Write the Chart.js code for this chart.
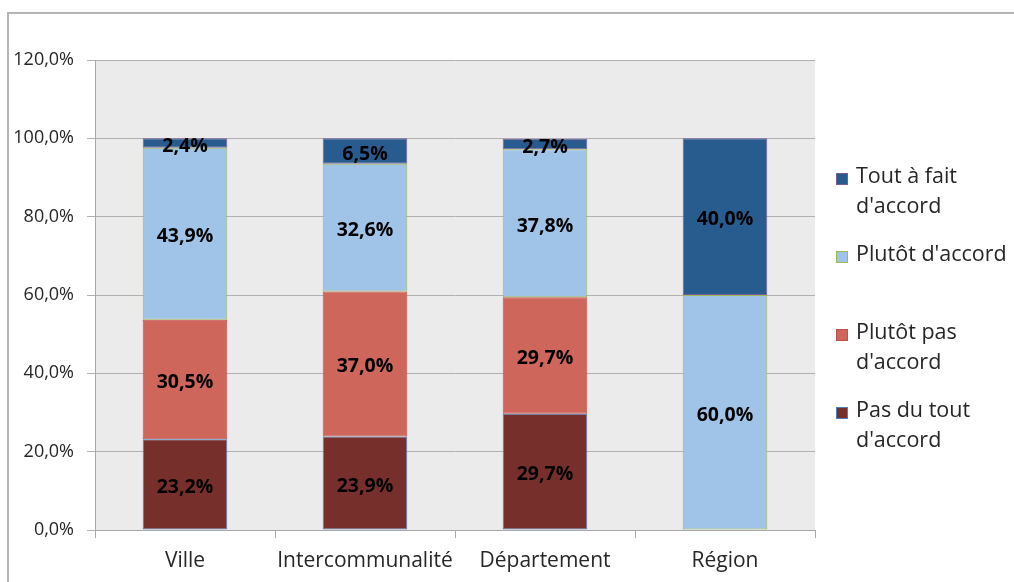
<!DOCTYPE html>
<html>
<head>
<meta charset="utf-8">
<script src="https://cdn.jsdelivr.net/npm/chart.js@4"></script>
<style>
  body { margin: 0; background: #fff; }
  #wrap { width: 1014px; height: 582px; }
</style>
</head>
<body>
<div id="wrap"><canvas id="accordChart" width="1014" height="582"></canvas></div>
<script>
// catégories et séries (du bas vers le haut de la pile)
const categories = ["Ville", "Intercommunalité", "Département", "Région"];
const seriesNames = ["Pas du tout\nd'accord", "Plutôt pas\nd'accord", "Plutôt d'accord", "Tout à fait\nd'accord"];
const pasDuTout = [23.2, 23.9, 29.7, 0];
const plutotPas = [30.5, 37.0, 29.7, 0];
const plutotAccord = [43.9, 32.6, 37.8, 60.0];
const toutAFait = [2.4, 6.5, 2.7, 40.0];
const yTicks = [0, 20, 40, 60, 80, 100, 120];

const fills = ["#772f2c", "#cf665c", "#a0c3e8", "#285c8f"];
const borders = ["#4f81bd", "#c0504d", "#9bbb59", "#7a5c9a"];
const FONT = "'Open Sans', sans-serif";

const fmt = (v) => v.toFixed(1).replace(".", ",") + "%";

// fond gris + cadre
const backgroundPlugin = {
  id: "bg",
  beforeDraw(chart) {
    const { ctx, chartArea: a } = chart;
    ctx.save();
    ctx.fillStyle = "#ebebeb";
    ctx.fillRect(a.left, a.top, a.right - a.left, a.bottom - a.top);
    ctx.strokeStyle = "#b5b5b5";
    ctx.lineWidth = 2;
    ctx.beginPath();
    ctx.moveTo(8, 600);
    ctx.lineTo(8, 13);
    ctx.lineTo(1020, 13);
    ctx.stroke();
    ctx.restore();
  },
};

// étiquettes de valeurs au centre de chaque segment
const valueLabels = {
  id: "valueLabels",
  afterDatasetsDraw(chart) {
    const { ctx } = chart;
    ctx.save();
    ctx.font = "bold 19.5px " + FONT;
    ctx.fillStyle = "#000";
    ctx.textAlign = "center";
    ctx.textBaseline = "middle";
    chart.data.datasets.forEach((ds, i) => {
      chart.getDatasetMeta(i).data.forEach((bar, j) => {
        const v = ds.data[j];
        if (!v) return;
        ctx.fillText(fmt(v), bar.x, (bar.y + bar.base) / 2 + 3);
      });
    });
    ctx.restore();
  },
};

// légende à droite, ordre inversé, texte sur deux lignes
const sideLegend = {
  id: "sideLegend",
  afterDraw(chart) {
    const { ctx } = chart;
    const tops = [400, 322, 244, 166]; // haut de chaque entrée
    ctx.save();
    ctx.font = "21.5px " + FONT;
    ctx.textBaseline = "alphabetic";
    chart.data.datasets.forEach((ds, i) => {
      const y = tops[i];
      ctx.fillStyle = ds.backgroundColor;
      ctx.fillRect(836, y + 7, 11, 11);
      ctx.strokeStyle = ds.borderColor;
      ctx.lineWidth = 1;
      ctx.strokeRect(836.5, y + 7.5, 11, 11);
      ctx.fillStyle = "#262626";
      ds.label.split("\n").forEach((line, k) => {
        ctx.fillText(line, 856, y + 17 + k * 30);
      });
    });
    ctx.restore();
  },
};

const seriesData = [pasDuTout, plutotPas, plutotAccord, toutAFait];

new Chart(document.getElementById("accordChart"), {
  type: "bar",
  data: {
    labels: categories,
    datasets: seriesData.map((d, i) => ({
      label: seriesNames[i],
      data: d,
      backgroundColor: fills[i],
      borderColor: borders[i],
      borderWidth: (c) => (c.raw ? 1 : 0), // pas de trait pour les segments vides
      borderSkipped: false,
      categoryPercentage: 1,
      barPercentage: 0.47,
    })),
  },
  options: {
    responsive: false,
    animation: false,
    devicePixelRatio: 1,
    layout: { padding: { top: 60, right: 199, bottom: 0, left: 0 } },
    plugins: { legend: { display: false }, tooltip: { enabled: false } },
    scales: {
      x: {
        stacked: true,
        afterFit: (s) => { s.height = 52; },
        grid: { display: true, offset: true, drawOnChartArea: false, drawTicks: true, tickLength: 8, color: "#a8a8a8" },
        border: { display: true, color: "#a8a8a8" },
        ticks: {
          color: "#262626",
          font: { family: FONT, size: 21 },
          padding: 10,
          autoSkip: false,
          maxRotation: 0,
          minRotation: 0,
        },
      },
      y: {
        stacked: true,
        min: 0,
        max: 120,
        afterFit: (s) => { s.width = 95; },
        afterBuildTicks: (s) => { s.ticks = yTicks.map((v) => ({ value: v })); },
        grid: { color: "#b0b0b0", tickLength: 8 },
        border: { display: true, color: "#a8a8a8" },
        ticks: { color: "#262626", font: { family: FONT, size: 18 }, padding: 13, callback: (v) => fmt(v) },
      },
    },
  },
  plugins: [backgroundPlugin, valueLabels, sideLegend],
});
</script>
</body>
</html>
